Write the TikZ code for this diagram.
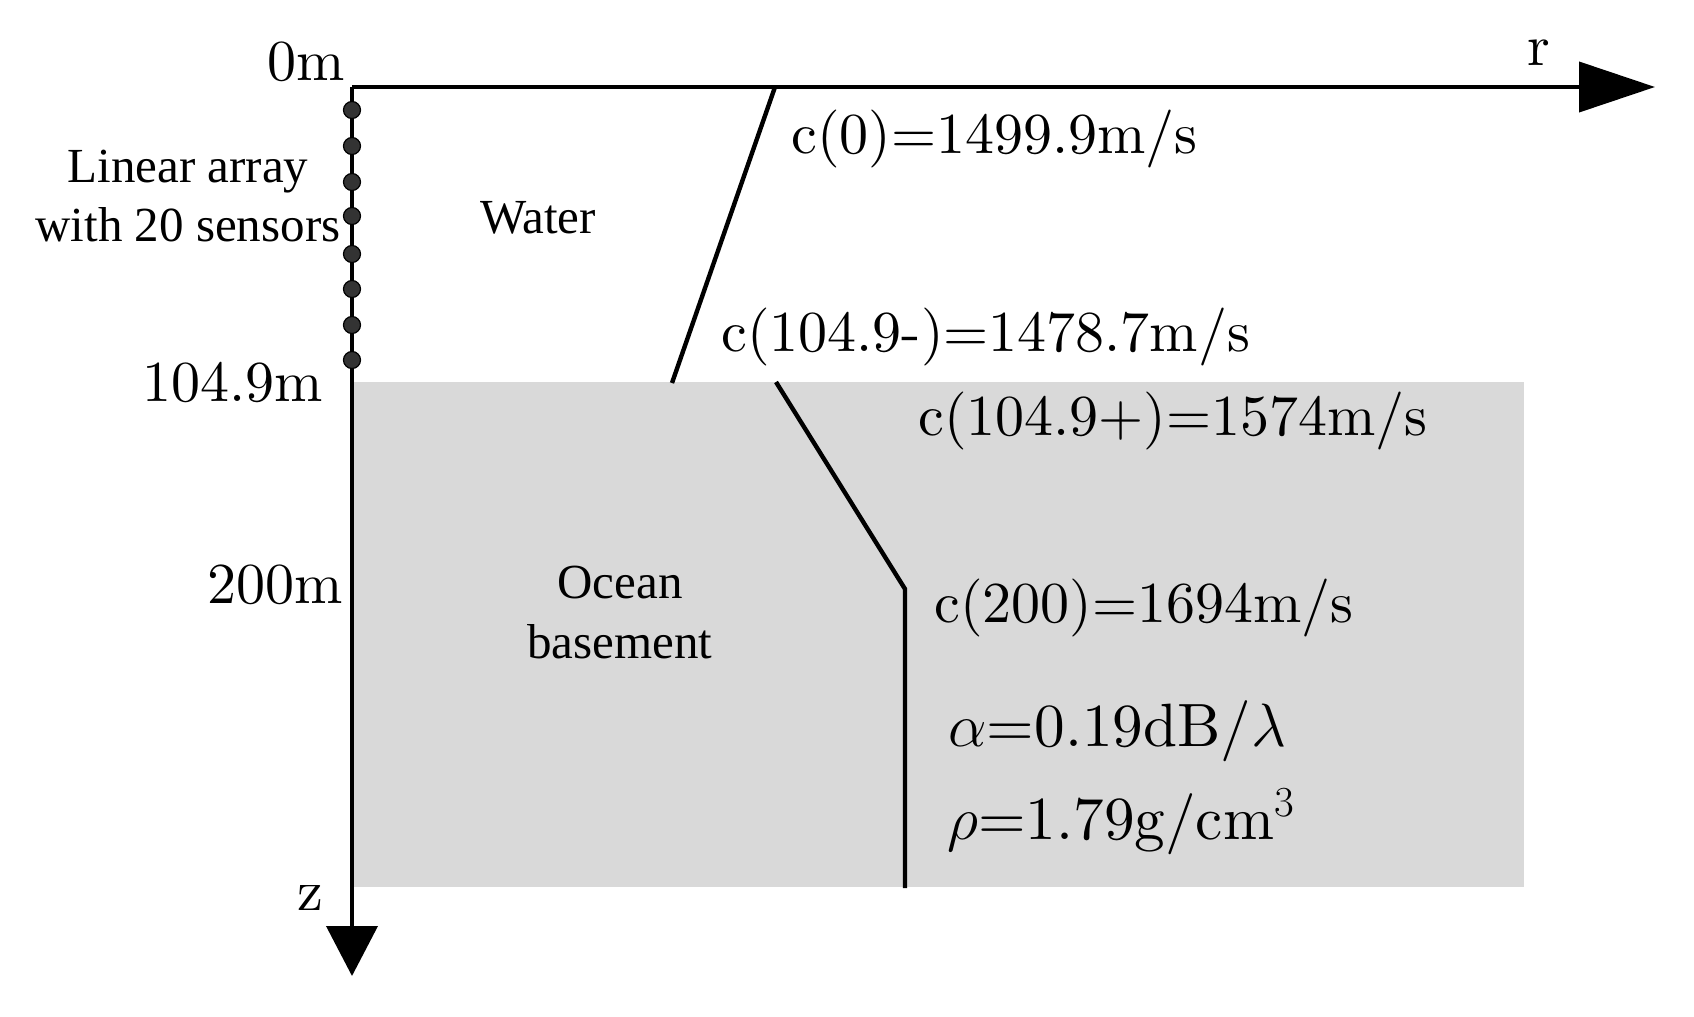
\RequirePackage{fix-cm}
\documentclass[tikz,border=0pt]{standalone}
\usepackage{fontspec}
\newfontfamily\tnr{Liberation Serif}
\newfontfamily\cmten{lmroman10-regular.otf}
\usetikzlibrary{arrows.meta}
\definecolor{basegrey}{HTML}{D9D9D9}
\definecolor{sensorfill}{HTML}{333333}
\begin{document}
\begin{tikzpicture}[x=0.5pt,y=-0.5pt,
  cmlab/.style={inner sep=0pt, font=\cmten\fontsize{29}{35}\selectfont},
  mathlab/.style={inner sep=0pt, font=\cmten\fontsize{30.6}{36}\selectfont},
  axlab/.style={inner sep=0pt, font=\cmten\fontsize{29}{35}\selectfont},
  tlab/.style={inner sep=0pt, font=\tnr\fontsize{24.5}{30}\selectfont, align=center},
  axisline/.style={line width=2pt},
  profile/.style={line width=2.2pt},
  sensor/.style={circle, draw=black, line width=0.6pt, fill=sensorfill, minimum size=8.5pt, inner sep=0pt}]
\useasboundingbox (0,0) rectangle (1694,1017);
% ocean basement layer
\fill[basegrey] (352,382) rectangle (1524,887);
% axes
\coordinate (O) at (352,87);
\coordinate (rend) at (1655,87);
\coordinate (zend) at (352,976);
\draw[axisline, -{Triangle[length=38pt,width=25pt]}] (O) -- (rend);
\draw[axisline, -{Triangle[length=25pt,width=25.5pt]}] (O) -- (zend);
% sound speed profile
\coordinate (p0) at (775,87);
\coordinate (p1) at (672,383);
\draw[profile] (p0) -- (p1);
\coordinate (q0) at (776,382);
\coordinate (q1) at (905,589);
\coordinate (q2) at (905,888);
\draw[profile] (q0) -- (q1) -- (q2);
% sensors
\foreach \i/\yy in {1/110,2/146,3/182,4/216,5/254,6/289,7/325,8/360}
  \node[sensor] (s\i) at (352,\yy) {};
% axis labels
\node[axlab, anchor=base east] (l0) at (345,80) {0m};
\node[axlab, anchor=base east] (l104) at (323,401) {104.9m};
\node[axlab, anchor=base east] (l200) at (343,603) {200m};
\node[axlab, anchor=base west] (lr) at (1527,65) {r};
\node[axlab, anchor=base west] (lz) at (297,910) {z};
% speed labels
\node[cmlab, anchor=base west] (c0) at (791,153) {c(0)=1499.9m/s};
\node[cmlab, anchor=base west] (c104m) at (721,351) {c(104.9-)=1478.7m/s};
\node[cmlab, anchor=base west] (c104p) at (918,435) {c(104.9+)=1574m/s};
\node[cmlab, anchor=base west] (c200) at (934,622) {c(200)=1694m/s};
\node[mathlab, anchor=base west] (alpha) at (948,746) {$\alpha$=0.19dB/$\lambda$};
\node[mathlab, anchor=base west] (rho) at (947,839) {$\rho$=1.79g/cm$^3$};
% region labels
\node[tlab, anchor=base] (water) at (538,233) {Water};
\node[tlab] (ocean) at (620,613) {Ocean\\basement};
\node[tlab, font=\tnr\fontsize{24.5}{29.5}\selectfont] (array) at (188,196) {Linear array\\with 20 sensors};
\end{tikzpicture}
\end{document}
